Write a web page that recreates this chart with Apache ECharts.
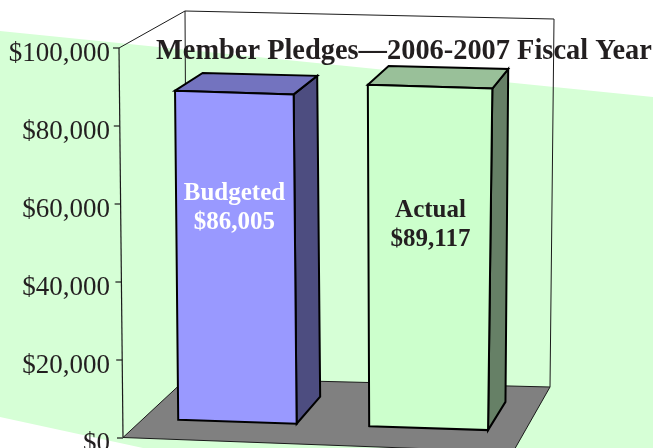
<!DOCTYPE html>
<html><head><meta charset="utf-8">
<style>html,body{margin:0;padding:0;background:#fff}#c{width:653px;height:448px}</style>
<script src="https://cdn.jsdelivr.net/npm/echarts@6/dist/echarts.min.js"></script>
</head><body><div id="c"></div>
<script>
var titleText = 'Member Pledges\u20142006-2007 Fiscal Year';
var categories = ['Budgeted', 'Actual'];
var pledges = [86005, 89117];
var axisTicks = [0, 20000, 40000, 60000, 80000, 100000];

var SERIF = '"Liberation Serif", serif';
var INK = '#231f20';
var faces = [
  {front:'#9999ff', side:'#4d4d80', top:'#7373bf', text:'#ffffff', u0:0.098, u1:0.42, labelAt:0.65, labelDx:0},
  {front:'#ccffcc', side:'#668066', top:'#99c099', text:INK, u0:0.61, u1:0.91, labelAt:0.595, labelDx:2}
];
var D0 = 0.30, D1 = 0.74;

function quad(q){
  var x0=q[0][0],y0=q[0][1],x1=q[1][0],y1=q[1][1],x2=q[2][0],y2=q[2][1],x3=q[3][0],y3=q[3][1];
  var dx1=x1-x2,dx2=x3-x2,sx=x0-x1+x2-x3,dy1=y1-y2,dy2=y3-y2,sy=y0-y1+y2-y3;
  var den=dx1*dy2-dx2*dy1;
  var g=(sx*dy2-dx2*sy)/den,h=(dx1*sy-sx*dy1)/den;
  var a=x1-x0+g*x1,b=x3-x0+h*x3,c=x0,d=y1-y0+g*y1,e=y3-y0+h*y3,f=y0;
  return function(u,v){var w=g*u+h*v+1;return [(a*u+b*v+c)/w,(d*u+e*v+f)/w];};
}
var floorMap = quad([[123,437.5],[513,452],[550,387],[187,378]]);
var ceilMap  = quad([[119,48],[522,62],[554,19],[185,11]]);
function P(u,d,t){
  var a=floorMap(u,d),b=ceilMap(u,d);
  return [a[0]+(b[0]-a[0])*t,a[1]+(b[1]-a[1])*t];
}
function fracOf(api,v){
  var y0=api.coord([0,0])[1],y1=api.coord([0,axisTicks[axisTicks.length-1]])[1];
  return (y0-api.coord([0,v])[1])/(y0-y1);
}
function poly(points,fill,stroke,lw){
  return {type:'polygon',shape:{points:points},style:{fill:fill,stroke:stroke||null,lineWidth:lw||0,lineJoin:'miter'}};
}
function line(a,b,w,c){
  return {type:'line',shape:{x1:a[0],y1:a[1],x2:b[0],y2:b[1]},style:{stroke:c||'#1a1a1a',lineWidth:w||1}};
}
function renderFrame(params,api){
  var kids=[];
  kids.push(poly([[0,31],[653,97],[653,448],[143,448],[0,417]],'#d6ffd6'));
  kids.push(poly([P(0,0,0),P(1,0,0),P(1,1,0),P(0,1,0)],'#808080','#1a1a1a',1));
  kids.push(line(P(0,1,1),P(1,1,1)));
  kids.push(line(P(1,1,1),P(1,1,0)));
  kids.push(line(P(0,1,1),P(0,1,0)));
  kids.push(line(P(0,0,1),P(0,1,1)));
  kids.push(line(P(0,0,0),P(0,0,1),1.2));
  axisTicks.forEach(function(v){
    var t=fracOf(api,v),p=P(0,0,t),y=api.coord([0,v])[1];
    kids.push(line([p[0]-6,y],[p[0],y],1.2));
  });
  return {type:'group',children:kids};
}
function renderBar(params,api){
  var f=faces[params.dataIndex],t=fracOf(api,api.value(1));
  var a=P(f.u0,D0,0),b=P(f.u1,D0,0),c=P(f.u1,D0,t),d=P(f.u0,D0,t);
  var e=P(f.u1,D1,0),g=P(f.u1,D1,t),h=P(f.u0,D1,t);
  var lab=P((f.u0+f.u1)/2,D0,t*f.labelAt);
  return {type:'group',children:[
    poly([b,e,g,c],f.side,'#000',2),
    poly([d,c,g,h],f.top,'#000',2),
    poly([a,b,c,d],f.front,'#000',2),
    {type:'text',x:lab[0]+f.labelDx,y:lab[1],style:{
      text:categories[params.dataIndex]+'\n$'+api.value(1).toLocaleString('en-US'),
      fill:f.text,font:'bold 25px '+SERIF,lineHeight:29,align:'center',verticalAlign:'middle'}}
  ]};
}
var chart=echarts.init(document.getElementById('c'),null,{renderer:'canvas'});
chart.setOption({
  animation:false,
  backgroundColor:'#fff',
  title:{text:titleText,left:151,top:33,z:10,textStyle:{fontFamily:SERIF,fontWeight:'bold',fontSize:28.4,color:INK}},
  grid:{left:119,right:133,top:48,bottom:10,containLabel:false,outerBoundsMode:'none'},
  xAxis:{type:'category',data:categories,show:false},
  yAxis:{type:'value',min:0,max:100000,interval:20000,z:10,
    axisLine:{show:false},axisTick:{show:false},splitLine:{show:false},
    axisLabel:{margin:9,
      rich:{t:{color:INK,fontFamily:SERIF,fontSize:27,padding:[11,0,0,0]}},
      formatter:function(v){return '{t|$'+v.toLocaleString('en-US')+'}';}}},
  series:[
    {type:'custom',coordinateSystem:'cartesian2d',clip:false,z:1,silent:true,data:[[0,0]],renderItem:renderFrame},
    {type:'custom',coordinateSystem:'cartesian2d',clip:false,z:2,silent:true,
     data:pledges.map(function(v,i){return [i,v];}),encode:{x:0,y:1},renderItem:renderBar}
  ]
});
</script></body></html>
